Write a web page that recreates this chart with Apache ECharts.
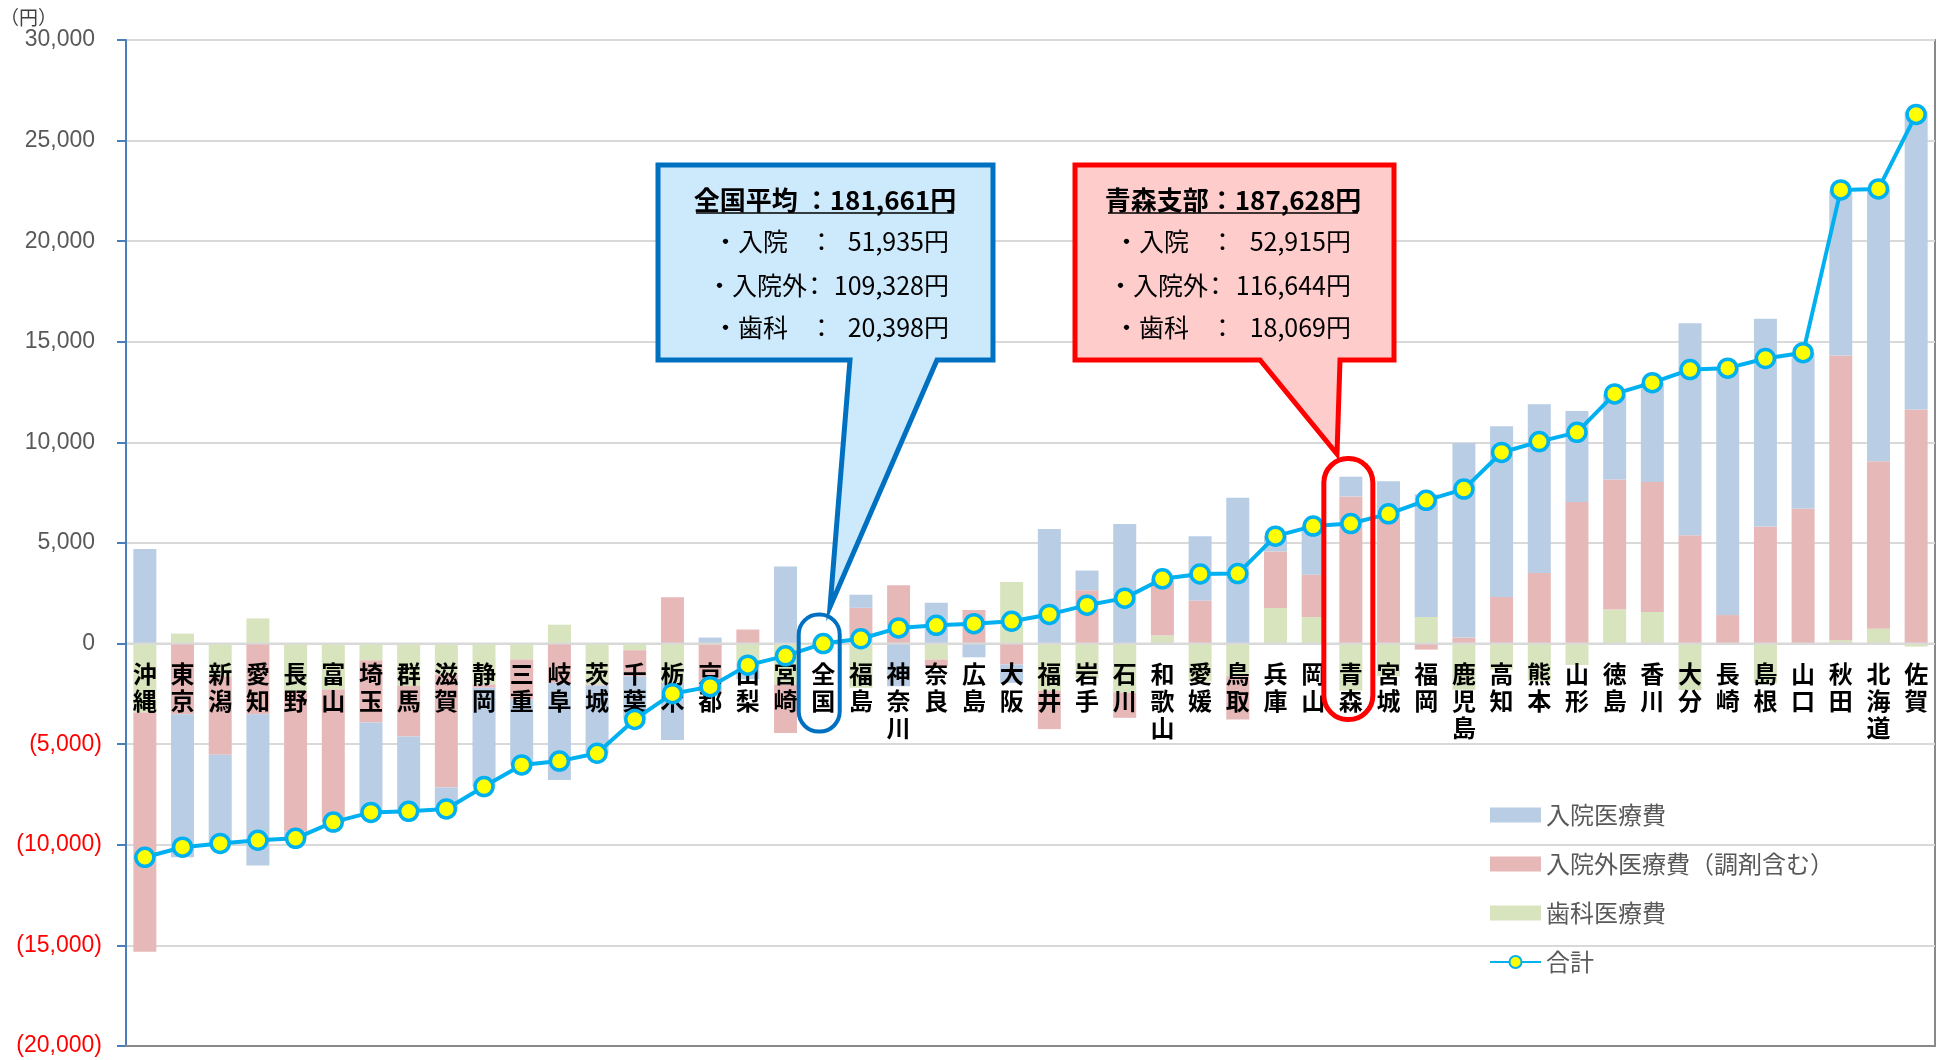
<!DOCTYPE html>
<html lang="ja">
<head>
<meta charset="utf-8">
<title>都道府県別 医療費の全国平均との差</title>
<script src="https://cdn.jsdelivr.net/npm/echarts@6.0.0/dist/echarts.min.js"></script>
<style>
html, body { margin: 0; padding: 0; background: #fff; }
#chart { width: 1941px; height: 1060px; }
</style>
</head>
<body>
<div id="chart"></div>
<script>
// 全国平均との差（円）
const prefectures = ['沖縄', '東京', '新潟', '愛知', '長野', '富山', '埼玉', '群馬', '滋賀', '静岡', '三重', '岐阜', '茨城', '千葉', '栃木', '京都', '山梨', '宮崎', '全国', '福島', '神奈川', '奈良', '広島', '大阪', '福井', '岩手', '石川', '和歌山', '愛媛', '鳥取', '兵庫', '岡山', '青森', '宮城', '福岡', '鹿児島', '高知', '熊本', '山形', '徳島', '香川', '大分', '長崎', '島根', '山口', '秋田', '北海道', '佐賀']
const inpatient = [4700, -7100, -4400, -7510, -350, 0, -4465, -3715, -1075, -4910, -3260, -4830, -3370, -2150, -2840, 300, -770, 3830, 0, 650, -2120, 2030, -680, -910, 5700, 980, 5950, 40, 3200, 7250, 760, 2420, 980, 1410, 6100, 9670, 8480, 8390, 4520, 4260, 4940, 10530, 12270, 10320, 7750, 8230, 13540, 14820]
const outpatient = [-11890, -3515, -3910, -3515, -6970, -6590, -3100, -2510, -5610, -165, -1980, -1950, -50, -1290, 2300, -2390, 700, -2410, 0, 1780, 2880, -330, 1660, -1040, -1900, 2650, -1240, 2780, 2140, -2150, 2810, 2100, 7316, 6660, -300, 300, 2320, 3510, 7040, 6460, 6460, 5390, 1420, 5820, 6710, 14150, 8320, 11630]
const dental = [-3430, 495, -1620, 1250, -2360, -2280, -825, -2110, -1535, -2030, -790, 940, -2030, -330, -1950, -50, -1000, -2030, 0, -2190, 20, -790, 10, 3060, -2350, -1720, -2450, 400, -1880, -1620, 1770, 1320, -2329, -1620, 1320, -2290, -1300, -1860, -1060, 1690, 1570, -2300, 0, -1970, 0, 170, 740, -150]
const total = [-10620, -10120, -9930, -9775, -9680, -8870, -8390, -8335, -8220, -7105, -6030, -5840, -5450, -3770, -2490, -2140, -1070, -610, 0, 240, 780, 910, 990, 1110, 1450, 1910, 2260, 3220, 3460, 3480, 5340, 5840, 5967, 6450, 7120, 7680, 9500, 10040, 10500, 12410, 12970, 13620, 13690, 14170, 14460, 22550, 22600, 26300]

const seriesNames = ['入院医療費', '入院外医療費（調剤含む）', '歯科医療費', '合計']

const nationalText = ['全国平均 ：181,661円', '・入院', '51,935円', '・入院外', '109,328円', '・歯科', '20,398円']
const aomoriText = ['青森支部：187,628円', '・入院', '52,915円', '・入院外', '116,644円', '・歯科', '18,069円']

const yMin = -20000
const yMax = 30000

const jp = '"Noto Sans CJK JP", sans-serif'
const num = '"Liberation Sans", sans-serif'
const fmt = (v) => v.toLocaleString('en-US')

const gridTop = 40
const gridBottom = 14
const plotH = 1060 - gridTop - gridBottom
// labels sit just under the zero line (Excel style), measured from the bottom edge
const zeroOffset = plotH * (0 - yMin) / (yMax - yMin)

const chart = echarts.init(document.getElementById('chart'))

chart.setOption({
	animation: false,
	textStyle: { fontFamily: jp },
	grid: {
		left: 126,
		right: 6,
		top: gridTop,
		bottom: gridBottom,
		outerBoundsMode: 'none',
		containLabel: false,
		show: true,
		borderColor: '#898989',
		borderWidth: 2
	},
	legend: {
		orient: 'vertical',
		left: 1484,
		top: 798,
		itemWidth: 51,
		itemHeight: 15,
		itemGap: 25,
		data: [
			{ name: seriesNames[0], icon: 'rect' },
			{ name: seriesNames[1], icon: 'rect' },
			{ name: seriesNames[2], icon: 'rect' },
			{ name: seriesNames[3] }
		],
		textStyle: { fontFamily: jp, fontSize: 24, lineHeight: 24, color: '#595959' }
	},
	xAxis: {
		type: 'category',
		data: prefectures,
		z: 3,
		axisLine: { onZero: false, lineStyle: { color: '#898989', width: 2 } },
		axisTick: { show: false },
		axisLabel: {
			interval: 0,
			margin: -(zeroOffset - 17),
			color: '#000',
			fontFamily: jp,
			fontSize: 24,
			lineHeight: 27,
			fontWeight: 'bold',
			formatter: (name) => name.split('').join('\n')
		}
	},
	yAxis: {
		type: 'value',
		min: yMin,
		max: yMax,
		interval: 5000,
		axisLine: { show: true, lineStyle: { color: '#4a7ebb', width: 2 } },
		axisTick: { show: true, length: 9, lineStyle: { color: '#4a7ebb', width: 2 } },
		splitLine: { lineStyle: { color: '#d9d9d9', width: 2 } },
		axisLabel: {
			margin: 24,
			formatter: (v) => v < 0 ? '{n|(' + fmt(-v) + ')}' : '{p|' + fmt(v) + '}',
			rich: {
				n: { color: '#ff0000', fontSize: 23, fontFamily: num },
				p: { color: '#595959', fontSize: 23, fontFamily: num, padding: [0, 7, 0, 0] }
			}
		}
	},
	series: [
		{
			name: seriesNames[2],
			type: 'bar',
			stack: 'diff',
			barWidth: 23,
			data: dental,
			itemStyle: { color: '#d7e4bd' }
		},
		{
			name: seriesNames[1],
			type: 'bar',
			stack: 'diff',
			barWidth: 23,
			data: outpatient,
			itemStyle: { color: '#e6b9b8' }
		},
		{
			name: seriesNames[0],
			type: 'bar',
			stack: 'diff',
			barWidth: 23,
			data: inpatient,
			itemStyle: { color: '#b9cde5' }
		},
		{
			name: seriesNames[3],
			type: 'line',
			z: 5,
			data: total,
			symbol: 'circle',
			symbolSize: 18,
			lineStyle: { color: '#00b0f0', width: 4 },
			itemStyle: { color: '#ffff00', borderColor: '#00b0f0', borderWidth: 3.5 }
		}
	]
})

// callouts and highlight frames
function callout(pts, fill, stroke, t, cx, col, valRight, leftX, colonX) {
	const items = [
		{
			type: 'polygon',
			shape: { points: pts },
			style: { fill: fill, stroke: stroke, lineWidth: 5, lineJoin: 'miter' },
			z: 20
		},
		{
			type: 'text',
			x: cx,
			y: 200,
			style: { text: t[0], font: 'bold 26px ' + jp, fill: '#000', align: 'center', verticalAlign: 'middle' },
			z: 21
		},
		{
			type: 'line',
			shape: { x1: col[0], y1: 213, x2: col[1], y2: 213 },
			style: { stroke: '#000', lineWidth: 1.5 },
			z: 21
		}
	]
	const rows = [241, 285, 327]
	rows.forEach((y, i) => {
		const mid = i === 1
		items.push({
			type: 'text', x: leftX + (mid ? -6 : 0), y: y,
			style: { text: t[1 + i * 2], font: '25px ' + jp, fill: '#000', verticalAlign: 'middle' }, z: 21
		})
		items.push({
			type: 'text', x: colonX + (mid ? -7 : 0), y: y,
			style: { text: '：', font: '25px ' + jp, fill: '#000', verticalAlign: 'middle' }, z: 21
		})
		items.push({
			type: 'text', x: valRight, y: y,
			style: { text: t[2 + i * 2], font: '25px ' + jp, fill: '#000', align: 'right', verticalAlign: 'middle' }, z: 21
		})
	})
	return items
}

const zeroY = chart.convertToPixel({ yAxisIndex: 0 }, 0)
const xNation = chart.convertToPixel({ xAxisIndex: 0 }, '全国')
const xAomori = chart.convertToPixel({ xAxisIndex: 0 }, '青森')

const graphics = [].concat(
	callout(
		[[658, 165], [993, 165], [993, 360], [937, 360], [830, 607], [850, 360], [658, 360]],
		'#cde9fc', '#0070c0', nationalText, 825, [696, 954], 949, 713, 809
	),
	callout(
		[[1075, 165], [1394, 165], [1394, 360], [1340, 360], [1337, 454], [1260, 360], [1075, 360]],
		'#ffcccc', '#ff0000', aomoriText, 1233, [1108, 1358], 1351, 1114, 1210
	),
	[
		{
			type: 'line',
			shape: { x1: 127, y1: zeroY, x2: 1934, y2: zeroY },
			style: { stroke: '#d9d9d9', lineWidth: 2 },
			z: 3
		},
		{
			type: 'rect',
			shape: { x: xNation - 24.5, y: zeroY - 29, width: 41, height: 117, r: 20 },
			style: { fill: 'none', stroke: '#0070c0', lineWidth: 4 },
			z: 22
		},
		{
			type: 'rect',
			shape: { x: xAomori - 27, y: zeroY - 185, width: 49, height: 261, r: 24 },
			style: { fill: 'none', stroke: '#ff0000', lineWidth: 5 },
			z: 22
		},
		{
			type: 'text',
			left: 0,
			top: 8,
			style: { text: '（円）', font: '19px ' + jp, fill: '#404040' }
		}
	]
)

chart.setOption({ graphic: graphics })
</script>
</body>
</html>
